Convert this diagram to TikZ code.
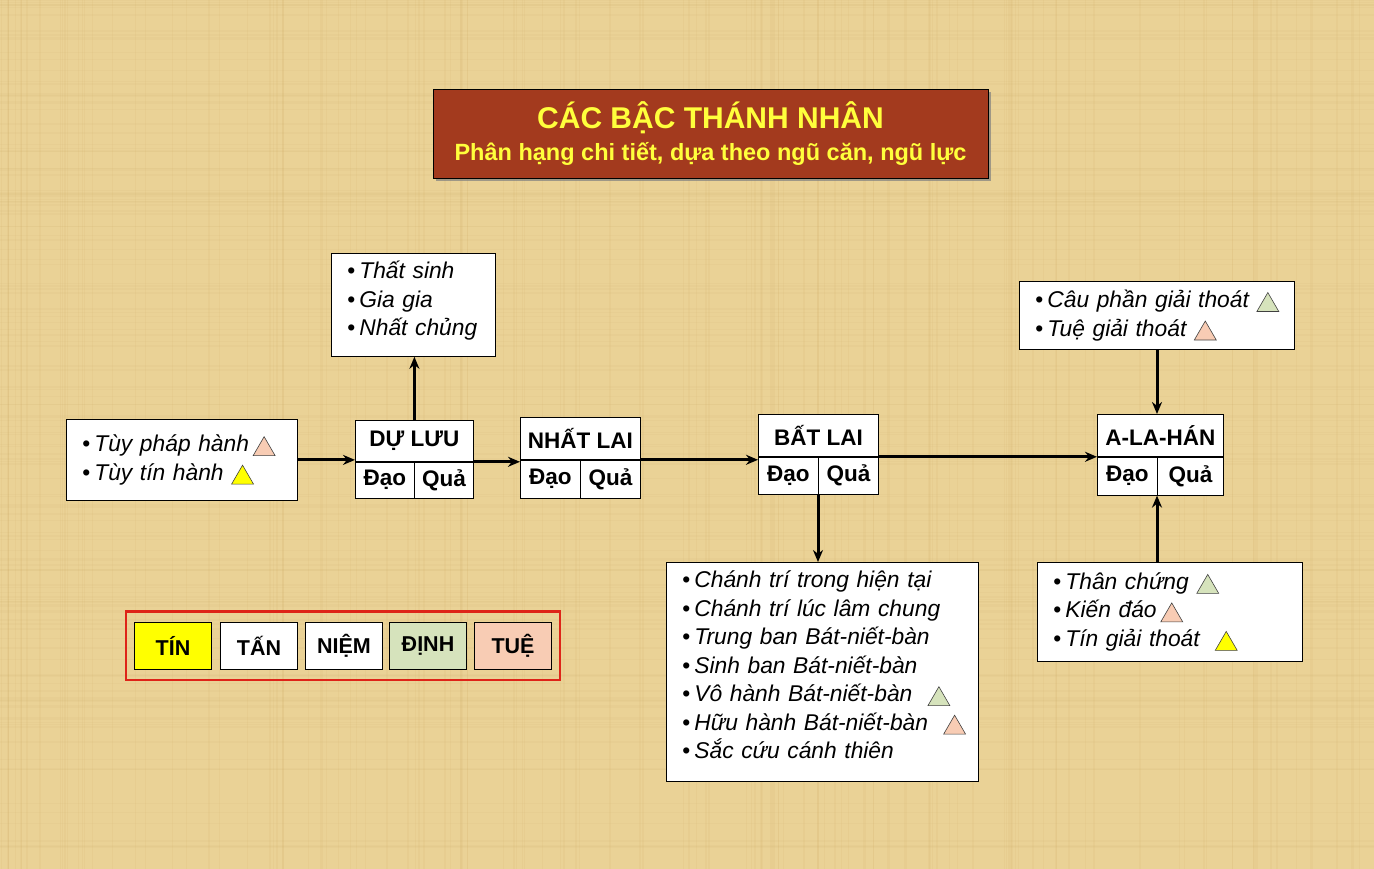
\documentclass[tikz,border=0pt]{standalone}
\usepackage{fontspec}
\setmainfont{Liberation Sans}
\usetikzlibrary{arrows.meta,positioning,fit,shadows}

\definecolor{parch}{RGB}{234,210,150}
\definecolor{weave}{RGB}{205,170,100}
\definecolor{rust}{RGB}{163,58,30}
\definecolor{gold}{RGB}{255,255,60}
\definecolor{peach}{RGB}{248,204,180}
\definecolor{sage}{RGB}{214,227,188}
\definecolor{lemon}{RGB}{255,255,0}
\definecolor{frame}{RGB}{222,36,24}

\newcommand{\tri}[1]{\tikz[baseline=4pt]\draw[fill=#1,draw=black!75,line width=0.6pt] (0pt,0pt) -- (22pt,0pt) -- (11pt,19pt) -- cycle;}
\newcommand{\itm}[1]{\mbox{{\upshape\textbullet}\hspace{4pt}#1}}
\newcommand{\lift}[3]{\raisebox{#1}[\height][\depth]{\parbox{#2}{#3}}}

\tikzset{
  listbox/.style={draw=black, fill=white, line width=0.8pt, anchor=north west, align=left,
    inner xsep=16pt, inner ysep=0pt, font=\fontsize{22.8}{28.5}\selectfont\itshape},
  stagehead/.style={draw=black, fill=white, line width=0.8pt, anchor=north west, inner sep=0pt,
    font=\fontsize{22.5}{26}\selectfont\bfseries},
  half/.style={draw=black, fill=white, line width=0.8pt, inner sep=0pt,
    font=\fontsize{22.5}{26}\selectfont\bfseries},
  legend/.style={draw=black, line width=0.6pt, minimum width=77.4pt, minimum height=47pt, inner sep=0pt,
    font=\fontsize{21.5}{24}\selectfont\bfseries},
  link/.style={line width=3pt, -{Stealth[length=12pt,width=10pt]}}
}

\begin{document}
\begin{tikzpicture}[x=1pt,y=-1pt]
\fill[parch] (0,0) rectangle (1374,869);
\useasboundingbox (0,0) rectangle (1374,869);
% weave of the paper
\pgfmathsetseed{11}
\foreach \k in {1,...,140} {
  \pgfmathsetmacro{\xa}{1374*rnd}
  \pgfmathsetmacro{\ya}{869*rnd}
  \pgfmathsetmacro{\wa}{0.6+1.6*rnd}
  \draw[weave, opacity=0.10, line width=\wa pt] (\xa,0) -- (\xa,869);
  \draw[weave, opacity=0.08, line width=\wa pt] (0,\ya) -- (1374,\ya);
}

% title
\node[draw=black, fill=rust, line width=0.6pt, minimum width=555pt, minimum height=89pt, align=center,
  text=gold, font=\fontsize{23.5}{32}\selectfont\bfseries,
  drop shadow={shadow xshift=3pt, shadow yshift=-3pt, opacity=0.7}]
  (title) at (710.5,133.5)
  {{\fontsize{30}{32}\selectfont CÁC BẬC THÁNH NHÂN}\\
   Phân hạng chi tiết, dựa theo ngũ căn, ngũ lực};

% stages
\node[stagehead, minimum width=118pt, minimum height=41pt] (duluu) at (355,420) {DỰ LƯU};
\node[half, anchor=north west, minimum width=59pt, minimum height=36pt] (duluu-dao) at (duluu.south west) {Đạo};
\node[half, anchor=north east, minimum width=59pt, minimum height=36pt] (duluu-qua) at (duluu.south east) {Quả};

\node[stagehead, minimum width=120pt, minimum height=42pt] (nhatlai) at (520,417) {NHẤT LAI};
\node[half, anchor=north west, minimum width=60pt, minimum height=38pt] (nhatlai-dao) at (nhatlai.south west) {Đạo};
\node[half, anchor=north east, minimum width=60pt, minimum height=38pt] (nhatlai-qua) at (nhatlai.south east) {Quả};

\node[stagehead, minimum width=120pt, minimum height=42pt] (batlai) at (758,414) {BẤT LAI};
\node[half, anchor=north west, minimum width=60pt, minimum height=37pt] (batlai-dao) at (batlai.south west) {Đạo};
\node[half, anchor=north east, minimum width=60pt, minimum height=37pt] (batlai-qua) at (batlai.south east) {Quả};

\node[stagehead, minimum width=126pt, minimum height=42pt] (alahan) at (1097,414) {A-LA-HÁN};
\node[half, anchor=north west, minimum width=60pt, minimum height=38pt] (alahan-dao) at (alahan.south west) {Đạo};
\node[half, anchor=north east, minimum width=66pt, minimum height=38pt] (alahan-qua) at (alahan.south east) {Quả};

% lists
\node[listbox, text width=199pt, minimum height=81pt] (tuy) at (66,419)
  {\itm{Tùy pháp hành\,\tri{peach}}\\ \itm{Tùy tín hành \tri{lemon}}};
\node[listbox, text width=132pt, minimum height=103pt] (thatsinh) at (331,253)
  {\lift{4pt}{132pt}{\itm{Thất sinh}\\ \itm{Gia gia}\\ \itm{Nhất chủng}}};
\node[listbox, text width=243pt, minimum height=68pt] (caphan) at (1019,281)
  {\itm{Câu phần giải thoát \tri{sage}}\\ \itm{Tuệ giải thoát \tri{peach}}};
\node[listbox, text width=280pt, minimum height=219pt] (chanhtri) at (666,562)
  {\lift{7pt}{280pt}{\itm{Chánh trí trong hiện tại}\\ \itm{Chánh trí lúc lâm chung}\\ \itm{Trung ban Bát-niết-bàn}\\
   \itm{Sinh ban Bát-niết-bàn}\\ \itm{Vô hành Bát-niết-bàn \ \tri{sage}}\\ \itm{Hữu hành Bát-niết-bàn \ \tri{peach}}\\
   \itm{Sắc cứu cánh thiên}}};
\node[listbox, text width=233pt, minimum height=99pt] (thanchung) at (1037,562)
  {\itm{Thân chứng \tri{sage}}\\ \itm{Kiến đáo\,\tri{peach}}\\ \itm{Tín giải thoát \ \tri{lemon}}};

% arrows
\draw[link] (tuy.east) -- (tuy.east -| duluu.west);
\draw[link] (duluu.south east) -- (duluu.south east -| nhatlai.west);
\draw[link] (nhatlai.south east) -- (nhatlai.south east -| batlai.west);
\draw[link] (batlai.south east) -- (alahan.south west);
\draw[link] (duluu.north) -- (thatsinh.south -| duluu.north);
\draw[link] (batlai-qua.south west) -- (chanhtri.north -| batlai-qua.south west);
\draw[link] (caphan.south -| alahan-qua.north west) -- (alahan.north -| alahan-qua.north west);
\draw[link] (thanchung.north -| alahan-qua.south west) -- (alahan-qua.south west);

% legend
\node[legend, fill=lemon, anchor=north west] (tin) at (134,622) {TÍN};
\node[legend, fill=white, right=8pt of tin] (tan) {TẤN};
\node[legend, fill=white, right=7pt of tan] (niem) {NIỆM};
\node[legend, fill=sage, right=6pt of niem] (dinh) {ĐỊNH};
\node[legend, fill=peach, right=7pt of dinh] (tue) {TUỆ};
\node[draw=frame, line width=2.4pt, inner xsep=8pt, inner ysep=10.5pt, fit=(tin)(tue)] (legendframe) {};
\end{tikzpicture}
\end{document}
